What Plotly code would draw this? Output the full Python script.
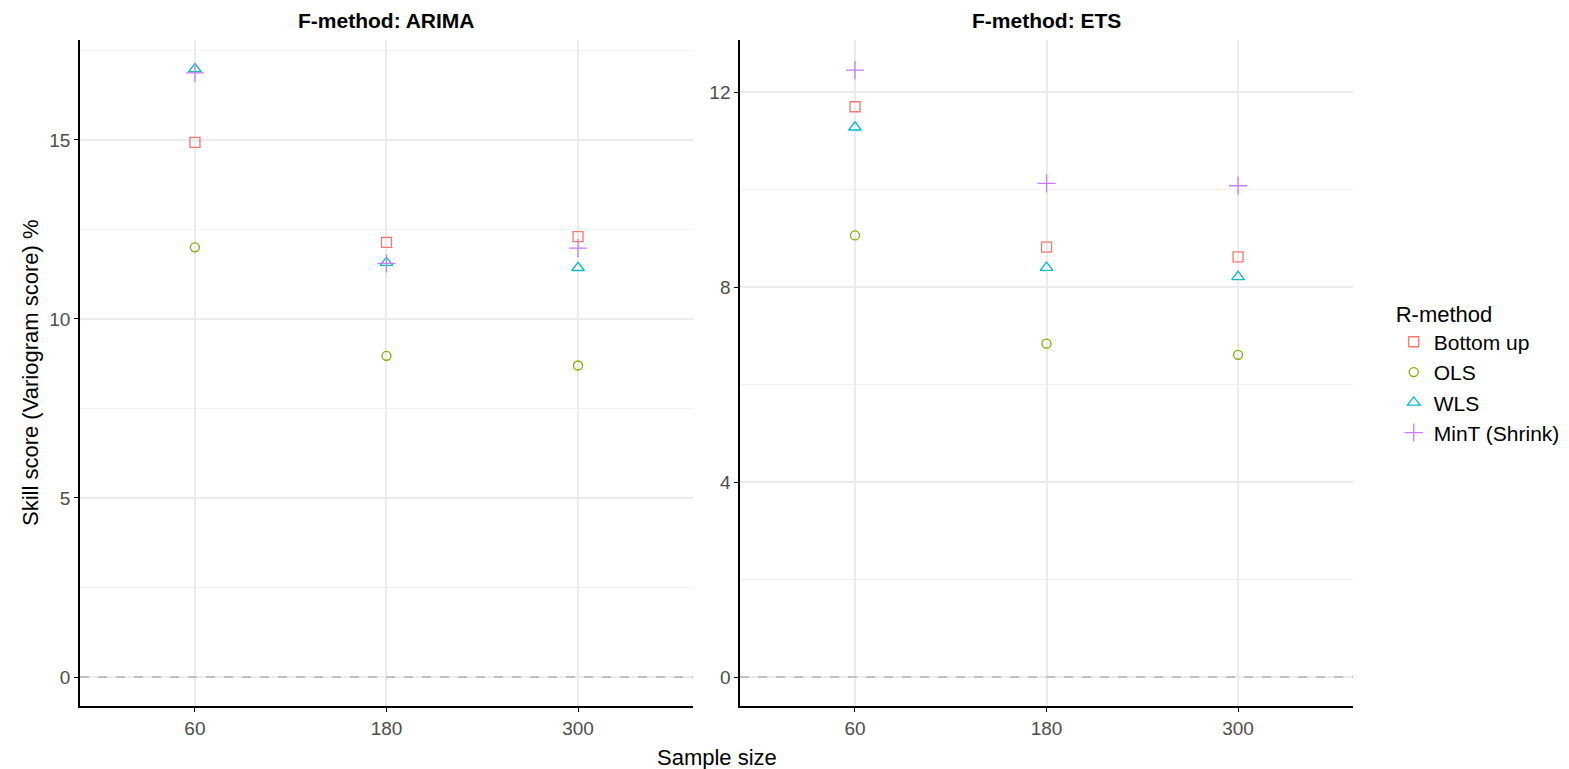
import plotly.graph_objects as go

sample_sizes = ["60", "180", "300"]
methods = ["Bottom up", "OLS", "WLS", "MinT (Shrink)"]
colors = ["#F8766D", "#7CAE00", "#00BFC4", "#C77CFF"]
symbols = ["square-open", "circle-open", "triangle-up-open", "cross-thin-open"]
sizes = [10, 9, 11, 13]

arima_bottom_up = [14.93, 12.14, 12.30]
arima_ols = [12.00, 8.97, 8.70]
arima_wls = [16.98, 11.57, 11.43]
arima_mint = [16.87, 11.55, 11.98]

ets_bottom_up = [11.70, 8.82, 8.62]
ets_ols = [9.06, 6.84, 6.61]
ets_wls = [11.28, 8.40, 8.21]
ets_mint = [12.45, 10.13, 10.08]

arima = [arima_bottom_up, arima_ols, arima_wls, arima_mint]
ets = [ets_bottom_up, ets_ols, ets_wls, ets_mint]

fig = go.Figure()
for i, m in enumerate(methods):
    fig.add_trace(go.Scatter(
        x=sample_sizes, y=arima[i], mode="markers", name=m,
        marker=dict(symbol=symbols[i], color=colors[i], size=sizes[i],
                    line=dict(width=1.3, color=colors[i])),
        xaxis="x", yaxis="y"))
for i, m in enumerate(methods):
    fig.add_trace(go.Scatter(
        x=sample_sizes, y=ets[i], mode="markers", name=m,
        showlegend=False,
        marker=dict(symbol=symbols[i], color=colors[i], size=sizes[i],
                    line=dict(width=1.3, color=colors[i])),
        xaxis="x2", yaxis="y2"))

font = "Liberation Sans, Arial, sans-serif"
grid = "#ebebeb"
tickfont = dict(size=19, color="#4d4d4d", family=font)
common_x = dict(type="category", categoryorder="array", categoryarray=sample_sizes,
                range=[-0.6, 2.6], showline=True, linecolor="black", linewidth=1.5,
                ticks="outside", ticklen=4, tickcolor="black", tickwidth=1.3,
                showgrid=True, gridcolor=grid, gridwidth=1.5, zeroline=False,
                tickfont=tickfont)
common_y = dict(showline=True, linecolor="black", linewidth=1.5,
                ticks="outside", ticklen=4, tickcolor="black", tickwidth=1.3,
                showgrid=True, gridcolor=grid, gridwidth=1.5, zeroline=False,
                tickfont=tickfont)

fig.update_layout(
    width=1569, height=769,
    margin=dict(l=72, r=224, t=32, b=71),
    plot_bgcolor="white", paper_bgcolor="white",
    font=dict(family=font, size=22, color="black"),
    xaxis=dict(domain=[0, 0.4815], anchor="y", **common_x),
    xaxis2=dict(domain=[0.5185, 1], anchor="y2", **common_x),
    yaxis=dict(domain=[0, 1], anchor="x", range=[-0.81, 17.79], tickvals=[0, 5, 10, 15],
               minor=dict(dtick=2.5, tick0=0, showgrid=True, gridcolor="#f2f2f2", gridwidth=0.8),
               **common_y),
    yaxis2=dict(domain=[0, 1], anchor="x2", range=[-0.595, 13.07], tickvals=[0, 4, 8, 12],
                minor=dict(dtick=2, tick0=0, showgrid=True, gridcolor="#f2f2f2", gridwidth=0.8),
                **common_y),
    legend=dict(x=1.032, y=0.5, xanchor="left", yanchor="middle",
                title=dict(text="R-method", font=dict(size=22)),
                font=dict(size=21), tracegroupgap=0, itemwidth=30),
    showlegend=True,
)

for xr, yr in (("x domain", "y"), ("x2 domain", "y2")):
    fig.add_shape(type="line", xref=xr, yref=yr, x0=0, x1=1, y0=0, y1=0,
                  line=dict(color="#b3b3b3", width=1.5, dash="dash"), layer="above")

fig.add_annotation(text="<b>F-method: ARIMA</b>", xref="x domain", yref="paper",
                   x=0.5, y=1, yshift=20, xanchor="center", yanchor="middle",
                   showarrow=False, font=dict(size=21))
fig.add_annotation(text="<b>F-method: ETS</b>", xref="x2 domain", yref="paper",
                   x=0.5, y=1, yshift=20, xanchor="center", yanchor="middle",
                   showarrow=False, font=dict(size=21))
fig.add_annotation(text="Skill score (Variogram score) %", xref="paper", yref="paper",
                   x=0, y=0.5, xshift=-50, xanchor="center", yanchor="middle",
                   textangle=-90, showarrow=False, font=dict(size=22))
fig.add_annotation(text="Sample size", xref="paper", yref="paper",
                   x=0.5, y=0, yshift=-51, xanchor="center", yanchor="middle",
                   showarrow=False, font=dict(size=22))

fig.write_html("out.html")
